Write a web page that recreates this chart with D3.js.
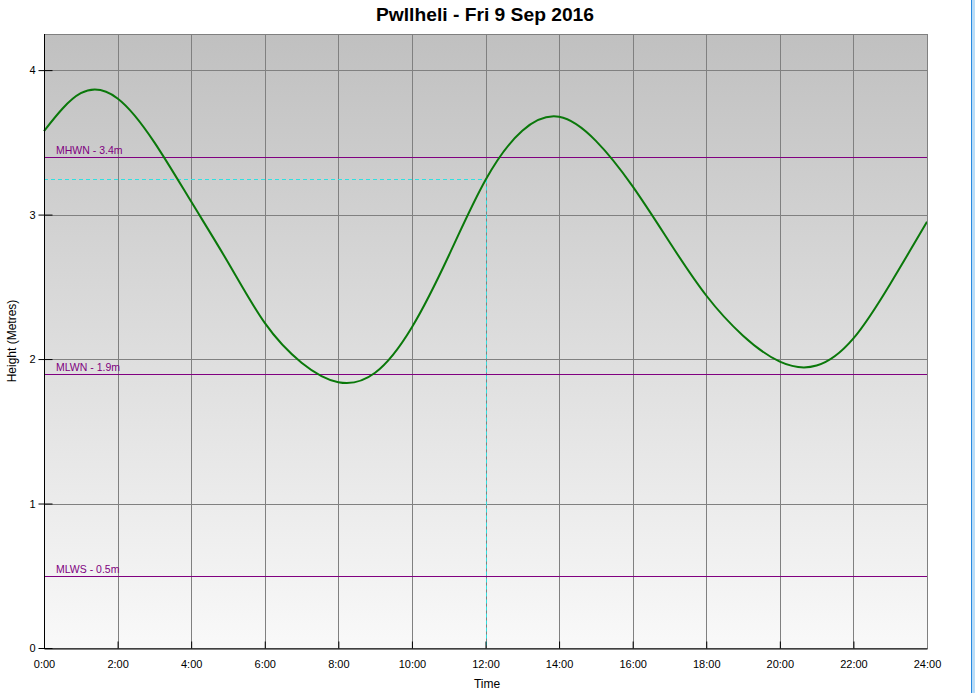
<!DOCTYPE html>
<html>
<head>
<meta charset="utf-8">
<script src="https://cdn.jsdelivr.net/npm/d3@7"></script>
<style>
html,body{margin:0;padding:0;background:#fff;}
svg{display:block;}
text{font-family:Arial,"Liberation Sans",sans-serif;}
</style>
</head>
<body>
<svg id="chart" width="975" height="693"></svg>
<script>
const title = "Pwllheli - Fri 9 Sep 2016";
const hours   = [0, 1, 2, 3, 4, 5, 6, 7, 8, 9, 10, 11, 12, 13, 14, 15, 16, 17, 18, 19, 20, 21, 22, 23, 24];
const heights = [3.578, 3.84, 3.804, 3.50, 3.09, 2.67, 2.25, 1.975, 1.84, 1.905, 2.22, 2.715, 3.239, 3.58, 3.677, 3.51, 3.195, 2.81, 2.44, 2.162, 1.982, 1.955, 2.143, 2.52, 2.950];
const refNames  = ["MHWN - 3.4m", "MLWN - 1.9m", "MLWS - 0.5m"];
const refValues = [3.4, 1.9, 0.5];
const xTicks = [0, 2, 4, 6, 8, 10, 12, 14, 16, 18, 20, 22, 24];
const xTickLabels = ["0:00","2:00","4:00","6:00","8:00","10:00","12:00","14:00","16:00","18:00","20:00","22:00","24:00"];
const yTicks = [0, 1, 2, 3, 4];
const cursorHour = 12;
const cursorHeight = 3.246;

const svg = d3.select("#chart");
const L = 44, R = 927, T = 34, B = 648;
const x = d3.scaleLinear().domain([0, 24]).range([L, R]);
const y = d3.scaleLinear().domain([0, 4.25]).range([B, T]);

const defs = svg.append("defs");
const grad = defs.append("linearGradient").attr("id","bg").attr("x1",0).attr("y1",0).attr("x2",0).attr("y2",1);
grad.append("stop").attr("offset","0%").attr("stop-color","#c0c0c0");
grad.append("stop").attr("offset","100%").attr("stop-color","#f9f9f9");

svg.append("rect").attr("x",L).attr("y",T).attr("width",R-L).attr("height",B-T).attr("fill","url(#bg)");

// gridlines
const grid = svg.append("g").attr("stroke","#808080").attr("stroke-width",1).attr("shape-rendering","crispEdges");
xTicks.forEach(t => grid.append("line").attr("x1",Math.round(x(t))+0.5).attr("x2",Math.round(x(t))+0.5).attr("y1",T).attr("y2",B));
yTicks.forEach(t => grid.append("line").attr("x1",L).attr("x2",R).attr("y1",Math.round(y(t))+0.5).attr("y2",Math.round(y(t))+0.5));
grid.append("line").attr("x1",L).attr("x2",R+1).attr("y1",T+0.5).attr("y2",T+0.5);

// reference lines
const refs = svg.append("g");
refValues.forEach((v,i) => {
  const yy = Math.round(y(v)) + 0.5;
  refs.append("line").attr("x1",L).attr("x2",R).attr("y1",yy).attr("y2",yy)
    .attr("stroke","#800080").attr("stroke-width",1);
  refs.append("text").attr("x",56).attr("y",yy-3.5).attr("font-size","10.5px").attr("fill","#800080").text(refNames[i]);
});

// cursor crosshair
const cx = Math.round(x(cursorHour)) + 0.5, cy = Math.round(y(cursorHeight)) + 0.5;
svg.append("line").attr("x1",L).attr("x2",cx).attr("y1",cy).attr("y2",cy)
  .attr("stroke","#30e0e0").attr("stroke-width",1).attr("stroke-dasharray","4,3");
svg.append("line").attr("x1",cx).attr("x2",cx).attr("y1",cy).attr("y2",B)
  .attr("stroke","#30e0e0").attr("stroke-width",1).attr("stroke-dasharray","4,3");

// tide curve
const data = hours.map((h,i) => [h, heights[i]]);
svg.append("path").datum(data)
  .attr("fill","none").attr("stroke","#0a780a").attr("stroke-width",2)
  .attr("d", d3.line().x(d => x(d[0])).y(d => y(d[1])).curve(d3.curveNatural));

// axes
const xAxis = d3.axisBottom(x).tickValues(xTicks).tickFormat((d,i) => xTickLabels[i]).tickSizeInner(-7).tickSizeOuter(0).tickPadding(12);
const gx = svg.append("g").attr("transform",`translate(0,${B+0.5})`).call(xAxis);
gx.select(".domain").attr("stroke","#000");
gx.selectAll(".tick line").attr("stroke","#000");
gx.selectAll("text").attr("font-size","11px").attr("fill","#000").attr("font-family","Arial, 'Liberation Sans', sans-serif");

const yAxis = d3.axisLeft(y).tickValues(yTicks).tickFormat(d3.format("d")).tickSizeInner(6).tickSizeOuter(0).tickPadding(3);
const gy = svg.append("g").attr("transform",`translate(${L+0.5},0)`).call(yAxis);
gy.select(".domain").attr("stroke","#000").attr("d",`M0,${T}V${B}`);
gy.selectAll(".tick line").attr("stroke","#000").attr("x1",8);
gy.selectAll("text").attr("font-size","11px").attr("fill","#000").attr("font-family","Arial, 'Liberation Sans', sans-serif");
svg.append("line").attr("x1",R+0.5).attr("x2",R+0.5).attr("y1",T).attr("y2",B).attr("stroke","#808080").attr("shape-rendering","crispEdges");

// titles
svg.append("text").attr("x",485).attr("y",21).attr("text-anchor","middle")
  .attr("font-size","18px").attr("font-weight","bold").attr("textLength",218).attr("lengthAdjust","spacingAndGlyphs").text(title);
svg.append("text").attr("x",487).attr("y",688).attr("text-anchor","middle").attr("font-size","12px").text("Time");
svg.append("text").attr("transform","translate(16,341) rotate(-90)").attr("text-anchor","middle").attr("font-size","12px").text("Height (Metres)");

// window edge
svg.append("rect").attr("x",971).attr("y",0).attr("width",4).attr("height",693).attr("fill","#b9dcf7");
svg.append("line").attr("x1",971.5).attr("x2",971.5).attr("y1",0).attr("y2",693).attr("stroke","#2a8ae0");
</script>
</body>
</html>
